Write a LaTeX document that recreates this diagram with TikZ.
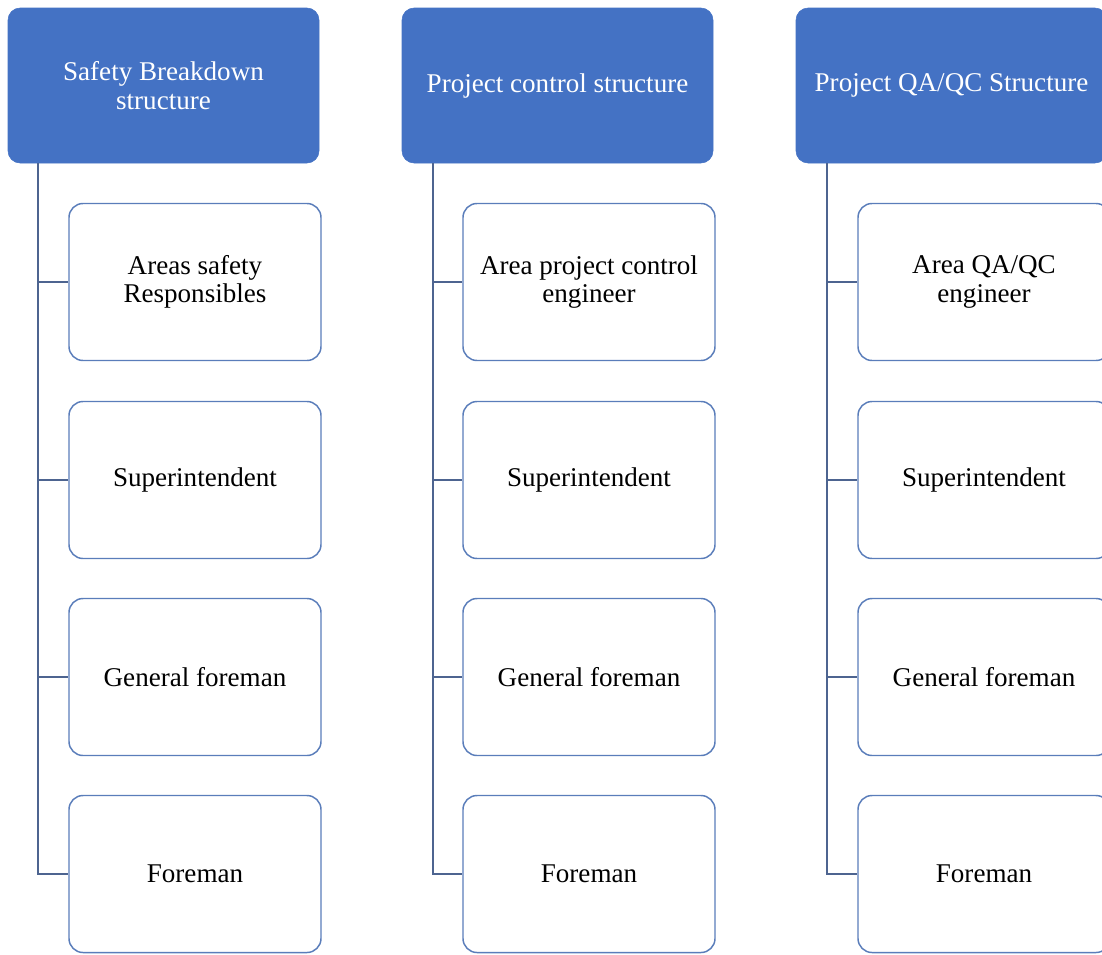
\documentclass[tikz,border=0pt]{standalone}
\usepackage{fontspec}
\setmainfont{Liberation Serif}
\begin{document}
\definecolor{headblue}{HTML}{4472C4}
\definecolor{boxline}{HTML}{5A7DBA}
\definecolor{linkline}{HTML}{4D6490}
\begin{tikzpicture}[x=0.75pt,y=-0.75pt,
  every node/.style={font=\fontsize{20.3}{21.5}\selectfont, align=center, inner sep=0pt},
  headbox/.style={fill=headblue, draw=headblue, rounded corners=9pt, text=white,
    minimum width=233.25pt, minimum height=116.25pt},
  rolebox/.style={fill=white, draw=boxline, line width=1.1pt, rounded corners=10.5pt,
    text=black, minimum width=189pt, minimum height=117.75pt},
  link/.style={draw=linkline, line width=1.5pt}]
\useasboundingbox (0,0) rectangle (1102,954);

% column headers
\node[headbox] (h1) at (163.5,85.5) {Safety Breakdown\\structure};
\node[headbox] (h2) at (557.5,85.5) {Project control structure};
\node[headbox] (h3) at (951.5,85.5) {Project QA/QC Structure};

% trunk start points under each header
\coordinate (t1) at ([xshift=22.9pt]h1.south west);
\coordinate (t2) at ([xshift=23.2pt]h2.south west);
\coordinate (t3) at ([xshift=23.2pt]h3.south west);

% role boxes, column 1
\node[rolebox] (a1) at (195,282) {Areas safety\\Responsibles};
\node[rolebox] (a2) at (195,480) {Superintendent};
\node[rolebox] (a3) at (195,677) {General foreman};
\node[rolebox] (a4) at (195,874) {Foreman};

% role boxes, column 2
\node[rolebox] (b1) at (589,282) {Area project control\\engineer};
\node[rolebox] (b2) at (589,480) {Superintendent};
\node[rolebox] (b3) at (589,677) {General foreman};
\node[rolebox] (b4) at (589,874) {Foreman};

% role boxes, column 3
\node[rolebox] (c1) at (984,282) {Area QA/QC\\engineer};
\node[rolebox] (c2) at (984,480) {Superintendent};
\node[rolebox] (c3) at (984,677) {General foreman};
\node[rolebox] (c4) at (984,874) {Foreman};

% connectors
\foreach \t/\r in {t1/a, t2/b, t3/c}{
  \foreach \i in {1,2,3,4}{
    \draw[link] (\t) |- (\r\i.west);
  }
}
\end{tikzpicture}
\end{document}
